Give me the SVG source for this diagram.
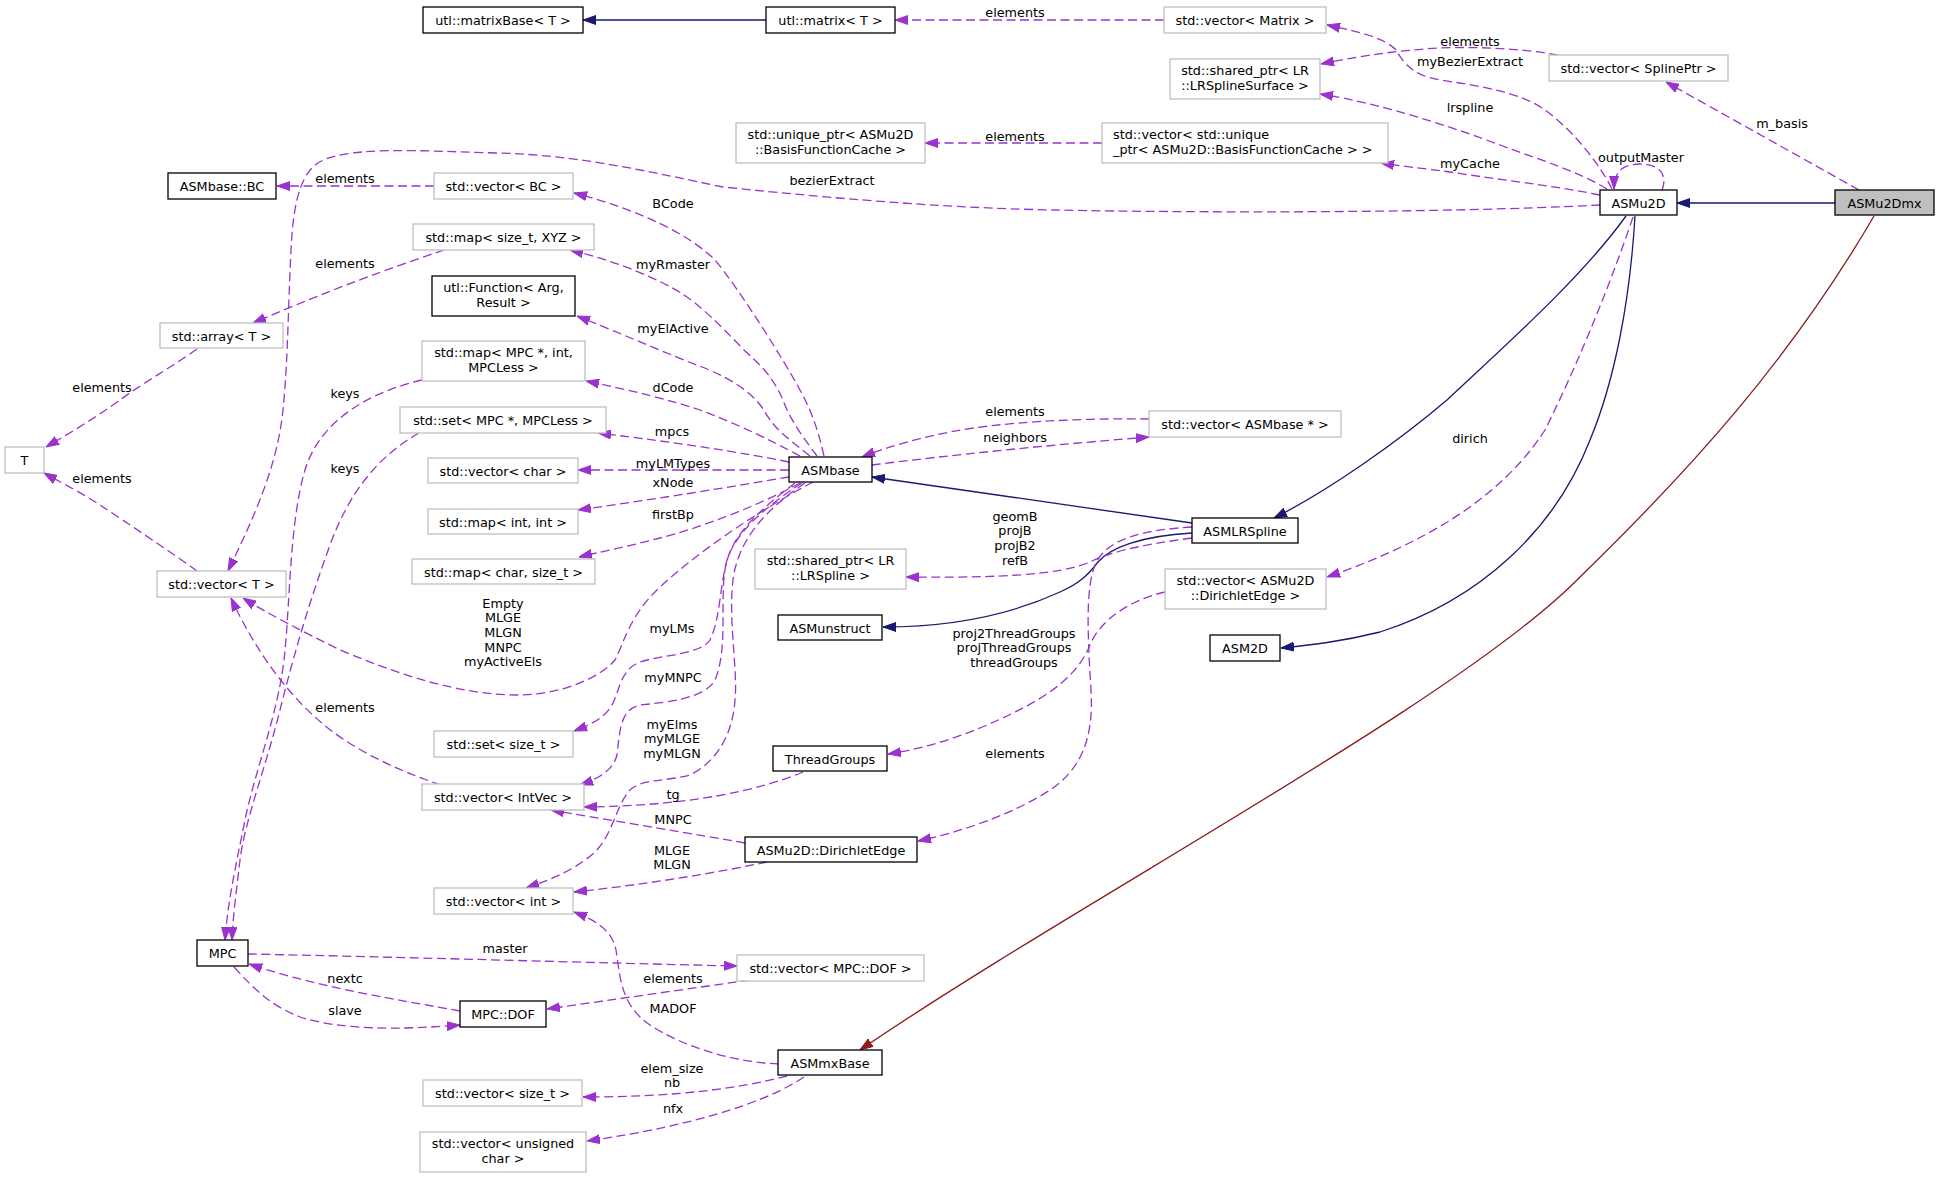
<svg xmlns="http://www.w3.org/2000/svg" width="1939" height="1178" viewBox="0 0 1939 1178">
<style>
text{font-family:"DejaVu Sans","Liberation Sans",sans-serif;font-size:12.8px;fill:#000}
.t{text-anchor:middle}
.d{fill:#fff;stroke:#000;stroke-width:1.3}
.u{fill:#fff;stroke:#bfbfbf;stroke-width:1.3}
.cur{fill:#bfbfbf;stroke:#000;stroke-width:1.3}
.e{fill:none;stroke:#9a32cd;stroke-width:1.3;stroke-dasharray:9,4.5}
.b{fill:none;stroke:#191970;stroke-width:1.3}
.r{fill:none;stroke:#8b1a1a;stroke-width:1.3}
.e{marker-end:url(#ap)}
.b{marker-end:url(#ab)}
.r{marker-end:url(#ar)}
</style>
<defs>
<marker id="ap" viewBox="0 0 13 10" refX="13" refY="5" markerWidth="13" markerHeight="10" markerUnits="userSpaceOnUse" orient="auto"><path d="M0,0.5 L13,5 L0,9.5 z" fill="#9a32cd" stroke="#9a32cd" stroke-width="1" stroke-dasharray="none"/></marker>
<marker id="ab" viewBox="0 0 13 10" refX="13" refY="5" markerWidth="13" markerHeight="10" markerUnits="userSpaceOnUse" orient="auto"><path d="M0,0.5 L13,5 L0,9.5 z" fill="#191970" stroke="#191970" stroke-width="1" stroke-dasharray="none"/></marker>
<marker id="ar" viewBox="0 0 13 10" refX="13" refY="5" markerWidth="13" markerHeight="10" markerUnits="userSpaceOnUse" orient="auto"><path d="M0,0.5 L13,5 L0,9.5 z" fill="#8b1a1a" stroke="#8b1a1a" stroke-width="1" stroke-dasharray="none"/></marker>
</defs>
<rect width="1939" height="1178" fill="#fff"/>
<g id="connectors">
<path class="b" d="M766,20 L583,20"/>
<path class="e" d="M1164,20 L895,20"/>
<path class="e" d="M1102,143 L925,143"/>
<path class="e" d="M1612,189 C1600,165 1575,132 1545,110 C1520,92 1480,86 1440,80 C1410,75 1402,60 1396,50 C1385,38 1360,32 1327,25"/>
<path class="e" d="M1662,190 C1668,175 1660,164 1640,164 C1622,164 1614,172 1614,189"/>
<path class="e" d="M1607,189 C1575,170 1540,160 1500,145 C1455,128 1380,103 1320,94"/>
<path class="e" d="M1558,55 C1520,48 1460,45 1413,50 C1380,53 1350,58 1321,64"/>
<path class="e" d="M1600,195 C1550,185 1500,180 1450,172 C1420,168 1400,166 1381,163"/>
<path class="e" d="M1600,205 C1450,213 1200,213 1055,210 C950,208 850,200 723,187 C650,172 580,155 497,153 C420,151 340,145 315,165 C298,180 293,210 291,250 C288,310 288,360 283,410 C277,470 250,525 228,571"/>
<path class="e" d="M1859,190 L1666,82"/>
<path class="b" d="M1835,203 L1677,203"/>
<path class="r" d="M1874,216 C1790,360 1690,470 1580,577 C1460,700 1080,900 860,1050"/>
<path class="b" d="M1626,216 C1580,280 1500,350 1447,400 C1400,440 1330,490 1274,518"/>
<path class="b" d="M1635,216 C1630,300 1615,380 1590,440 C1555,530 1480,600 1380,632 C1340,642 1310,645 1281,648"/>
<path class="e" d="M1633,217 C1605,300 1570,380 1545,430 C1500,500 1420,545 1327,577"/>
<path class="b" d="M1192,523 L872,477"/>
<path class="b" d="M1192,533 C1140,536 1110,548 1098,562 C1088,575 1080,583 1060,592 C1010,615 950,627 883,627"/>
<path class="e" d="M1192,538 C1140,545 1110,552 1090,562 C1060,575 1000,578 906,577"/>
<path class="e" d="M1192,527 C1140,530 1105,540 1095,565 C1085,590 1088,640 1091,690 C1094,740 1080,770 1050,790 C1020,810 970,830 918,841"/>
<path class="e" d="M1165,592 C1130,600 1100,620 1090,645 C1078,675 1050,695 1013,713 C975,732 930,748 888,754"/>
<path class="e" d="M1149,419 C1080,418 1000,422 950,432 C910,440 885,448 862,457"/>
<path class="e" d="M872,465 C950,455 1050,445 1149,437"/>
<path class="e" d="M434,186 L277,186"/>
<path class="e" d="M824,456 C818,430 812,412 800,390 C785,362 740,290 715,260 C690,235 640,210 574,193"/>
<path class="e" d="M817,456 C805,440 790,420 783,400 C772,375 760,365 744,350 C720,325 700,305 681,293 C660,280 620,262 570,250"/>
<path class="e" d="M810,456 C790,440 775,430 765,412 C755,395 735,380 702,367 C670,355 620,333 577,316"/>
<path class="e" d="M800,456 C770,440 740,425 700,410 C670,400 630,390 586,381"/>
<path class="e" d="M789,462 C740,452 680,443 598,433"/>
<path class="e" d="M789,470 L578,470"/>
<path class="e" d="M789,477 C730,487 650,500 578,510"/>
<path class="e" d="M800,483 C760,505 700,528 660,538 C630,546 600,552 579,557"/>
<path class="e" d="M813,482 C760,510 700,550 660,587 C630,615 625,640 615,660 C600,678 560,695 518,695 C460,695 400,675 340,650 C300,630 270,615 243,598"/>
<path class="e" d="M802,483 C760,510 735,535 727,560 C720,585 720,620 710,640 C700,655 660,655 640,662 C620,670 620,690 612,705 C605,718 590,725 574,731"/>
<path class="e" d="M795,483 C760,510 730,535 725,570 C720,600 728,650 715,680 C705,698 670,702 640,705 C620,710 620,730 617,755 C613,770 600,778 580,785"/>
<path class="e" d="M805,483 C765,510 738,540 733,580 C728,620 738,670 735,700 C733,730 720,760 690,775 C665,782 640,778 628,792 C615,810 612,835 595,852 C575,870 550,880 526,888"/>
<path class="e" d="M803,772 C760,790 690,806 584,807"/>
<path class="e" d="M745,843 C700,835 620,822 551,810"/>
<path class="e" d="M767,862 C720,872 650,884 574,892"/>
<path class="e" d="M779,1064 C730,1062 680,1045 650,1025 C620,1005 620,975 616,950 C612,930 595,920 574,912"/>
<path class="e" d="M750,980 C680,990 610,1000 547,1009"/>
<path class="e" d="M248,954 C400,957 600,963 737,966"/>
<path class="e" d="M460,1011 C400,1000 320,988 249,964"/>
<path class="e" d="M234,967 C255,990 270,1005 300,1017 C340,1030 400,1030 460,1025"/>
<path class="e" d="M787,1076 C740,1088 680,1097 583,1097"/>
<path class="e" d="M804,1077 C770,1100 700,1125 587,1141"/>
<path class="e" d="M444,250 C390,268 330,290 253,323"/>
<path class="e" d="M197,349 C170,368 140,385 120,400 C95,418 70,433 46,447"/>
<path class="e" d="M197,571 C165,548 130,525 100,505 C80,492 60,482 44,473"/>
<path class="e" d="M441,785 C390,768 345,745 315,717 C285,690 255,650 231,598"/>
<path class="e" d="M422,380 C370,392 320,420 305,470 C290,520 290,600 285,650 C280,710 255,770 245,820 C235,870 228,900 225,940"/>
<path class="e" d="M419,433 C380,455 350,490 330,545 C310,600 295,650 280,710 C265,770 245,820 240,860 C236,895 233,915 232,940"/>
</g>
<g id="edge-labels">
<text class="t" x="1015" y="16.5">elements</text>
<text class="t" x="1470" y="45.5">elements</text>
<text class="t" x="1470" y="65.5">myBezierExtract</text>
<text class="t" x="1470" y="111.5">lrspline</text>
<text class="t" x="1782" y="127.5">m_basis</text>
<text class="t" x="1015" y="140.5">elements</text>
<text class="t" x="1641" y="161.5">outputMaster</text>
<text class="t" x="1470" y="167.5">myCache</text>
<text class="t" x="345" y="182.5">elements</text>
<text class="t" x="832" y="184.5">bezierExtract</text>
<text class="t" x="673" y="207.5">BCode</text>
<text class="t" x="345" y="267.5">elements</text>
<text class="t" x="673" y="268.5">myRmaster</text>
<text class="t" x="673" y="332.5">myElActive</text>
<text class="t" x="102" y="391.5">elements</text>
<text class="t" x="673" y="391.5">dCode</text>
<text class="t" x="345" y="397.5">keys</text>
<text class="t" x="1015" y="415.5">elements</text>
<text class="t" x="672" y="435.5">mpcs</text>
<text class="t" x="1015" y="441.5">neighbors</text>
<text class="t" x="1470" y="442.5">dirich</text>
<text class="t" x="673" y="467.5">myLMTypes</text>
<text class="t" x="345" y="472.5">keys</text>
<text class="t" x="102" y="482.5">elements</text>
<text class="t" x="673" y="486.5">xNode</text>
<text class="t" x="673" y="518.5">firstBp</text>
<text class="t" x="1015" y="520.5">geomB</text>
<text class="t" x="1015" y="535.2">projB</text>
<text class="t" x="1015" y="549.9">projB2</text>
<text class="t" x="1015" y="564.6">refB</text>
<text class="t" x="503" y="607.5">Empty</text>
<text class="t" x="503" y="622.2">MLGE</text>
<text class="t" x="503" y="636.9">MLGN</text>
<text class="t" x="503" y="651.6">MNPC</text>
<text class="t" x="503" y="666.3">myActiveEls</text>
<text class="t" x="672" y="632.5">myLMs</text>
<text class="t" x="1014" y="637.5">proj2ThreadGroups</text>
<text class="t" x="1014" y="652.2">projThreadGroups</text>
<text class="t" x="1014" y="666.9">threadGroups</text>
<text class="t" x="673" y="681.5">myMNPC</text>
<text class="t" x="345" y="711.5">elements</text>
<text class="t" x="672" y="728.5">myElms</text>
<text class="t" x="672" y="743.2">myMLGE</text>
<text class="t" x="672" y="757.9">myMLGN</text>
<text class="t" x="1015" y="757.5">elements</text>
<text class="t" x="673" y="799">tg</text>
<text class="t" x="673" y="823.5">MNPC</text>
<text class="t" x="672" y="854.5">MLGE</text>
<text class="t" x="672" y="869.2">MLGN</text>
<text class="t" x="505" y="952.5">master</text>
<text class="t" x="345" y="982.5">nextc</text>
<text class="t" x="673" y="982.5">elements</text>
<text class="t" x="673" y="1012.5">MADOF</text>
<text class="t" x="345" y="1014.5">slave</text>
<text class="t" x="672" y="1072.5">elem_size</text>
<text class="t" x="672" y="1087.2">nb</text>
<text class="t" x="673" y="1112.5">nfx</text>
</g>
<g id="node-matrixBase"><rect class="d" x="423" y="7" width="160" height="26"/><text class="t" x="503" y="24.5">utl::matrixBase&lt; T &gt;</text></g>
<g id="node-matrix"><rect class="d" x="766" y="7" width="129" height="26"/><text class="t" x="830.5" y="24.5">utl::matrix&lt; T &gt;</text></g>
<g id="node-vecMatrix"><rect class="u" x="1164" y="7" width="162" height="26"/><text class="t" x="1245" y="24.5">std::vector&lt; Matrix &gt;</text></g>
<g id="node-sharedLRSS"><rect class="u" x="1170" y="59" width="150" height="40"/><text class="t" x="1245" y="75">std::shared_ptr&lt; LR</text><text class="t" x="1245" y="90">::LRSplineSurface &gt;</text></g>
<g id="node-vecSplinePtr"><rect class="u" x="1549" y="55" width="179" height="26"/><text class="t" x="1638.5" y="72.5">std::vector&lt; SplinePtr &gt;</text></g>
<g id="node-uniquePtr"><rect class="u" x="736" y="123" width="189" height="40"/><text class="t" x="830.5" y="139">std::unique_ptr&lt; ASMu2D</text><text class="t" x="830.5" y="154">::BasisFunctionCache &gt;</text></g>
<g id="node-vecUnique"><rect class="u" x="1102" y="123" width="286" height="40"/><text x="1113" y="139">std::vector&lt; std::unique</text><text x="1113" y="154">_ptr&lt; ASMu2D::BasisFunctionCache &gt; &gt;</text></g>
<g id="node-ASMu2D"><rect class="d" x="1600" y="190" width="77" height="25"/><text class="t" x="1638.5" y="207.5">ASMu2D</text></g>
<g id="node-ASMu2Dmx"><rect class="cur" x="1835" y="190" width="99" height="25"/><text class="t" x="1884.5" y="207.5">ASMu2Dmx</text></g>
<g id="node-BC"><rect class="d" x="168" y="173" width="108" height="26"/><text class="t" x="222" y="190.5">ASMbase::BC</text></g>
<g id="node-vecBC"><rect class="u" x="434" y="173" width="139" height="26"/><text class="t" x="503.5" y="190.5">std::vector&lt; BC &gt;</text></g>
<g id="node-mapXYZ"><rect class="u" x="413" y="224" width="181" height="26"/><text class="t" x="503.5" y="241.5">std::map&lt; size_t, XYZ &gt;</text></g>
<g id="node-utlFunction"><rect class="d" x="432" y="276" width="143" height="40"/><text class="t" x="503.5" y="292">utl::Function&lt; Arg,</text><text class="t" x="503.5" y="307">Result &gt;</text></g>
<g id="node-arrayT"><rect class="u" x="160" y="323" width="123" height="25"/><text class="t" x="221.5" y="340.5">std::array&lt; T &gt;</text></g>
<g id="node-mapMPC"><rect class="u" x="422" y="341" width="163" height="40"/><text class="t" x="503.5" y="357">std::map&lt; MPC *, int,</text><text class="t" x="503.5" y="372">MPCLess &gt;</text></g>
<g id="node-T"><rect class="u" x="5" y="447" width="39" height="26"/><text class="t" x="24.5" y="464.5">T</text></g>
<g id="node-setMPC"><rect class="u" x="400" y="407" width="206" height="26"/><text class="t" x="503" y="424.5">std::set&lt; MPC *, MPCLess &gt;</text></g>
<g id="node-vecChar"><rect class="u" x="428" y="458" width="150" height="25"/><text class="t" x="503" y="475.5">std::vector&lt; char &gt;</text></g>
<g id="node-mapIntInt"><rect class="u" x="428" y="509" width="150" height="25"/><text class="t" x="503" y="526.5">std::map&lt; int, int &gt;</text></g>
<g id="node-mapCharSize"><rect class="u" x="412" y="559" width="183" height="25"/><text class="t" x="503.5" y="576.5">std::map&lt; char, size_t &gt;</text></g>
<g id="node-vecT"><rect class="u" x="157" y="571" width="129" height="26"/><text class="t" x="221.5" y="588.5">std::vector&lt; T &gt;</text></g>
<g id="node-setSize"><rect class="u" x="434" y="731" width="139" height="26"/><text class="t" x="503.5" y="748.5">std::set&lt; size_t &gt;</text></g>
<g id="node-vecASMbase"><rect class="u" x="1149" y="411" width="192" height="26"/><text class="t" x="1245" y="428.5">std::vector&lt; ASMbase * &gt;</text></g>
<g id="node-ASMbase"><rect class="d" x="789" y="457" width="83" height="25"/><text class="t" x="830.5" y="474.5">ASMbase</text></g>
<g id="node-ASMLRSpline"><rect class="d" x="1192" y="518" width="106" height="25"/><text class="t" x="1245" y="535.5">ASMLRSpline</text></g>
<g id="node-sharedLRS"><rect class="u" x="755" y="549" width="151" height="40"/><text class="t" x="830.5" y="565">std::shared_ptr&lt; LR</text><text class="t" x="830.5" y="580">::LRSpline &gt;</text></g>
<g id="node-ASMunstruct"><rect class="d" x="778" y="615" width="104" height="25"/><text class="t" x="830" y="632.5">ASMunstruct</text></g>
<g id="node-vecDirichlet"><rect class="u" x="1165" y="569" width="161" height="40"/><text class="t" x="1245.5" y="585">std::vector&lt; ASMu2D</text><text class="t" x="1245.5" y="600">::DirichletEdge &gt;</text></g>
<g id="node-ASM2D"><rect class="d" x="1210" y="635" width="70" height="26"/><text class="t" x="1245" y="652.5">ASM2D</text></g>
<g id="node-ThreadGroups"><rect class="d" x="773" y="746" width="114" height="25"/><text class="t" x="830" y="763.5">ThreadGroups</text></g>
<g id="node-vecIntVec"><rect class="u" x="422" y="784" width="162" height="26"/><text class="t" x="503" y="801.5">std::vector&lt; IntVec &gt;</text></g>
<g id="node-vecInt"><rect class="u" x="434" y="888" width="139" height="26"/><text class="t" x="503.5" y="905.5">std::vector&lt; int &gt;</text></g>
<g id="node-DirichletEdge"><rect class="d" x="745" y="837" width="172" height="25"/><text class="t" x="831" y="854.5">ASMu2D::DirichletEdge</text></g>
<g id="node-MPC"><rect class="d" x="197" y="940" width="51" height="26"/><text class="t" x="222.5" y="957.5">MPC</text></g>
<g id="node-vecMPCDOF"><rect class="u" x="737" y="955" width="187" height="26"/><text class="t" x="830.5" y="972.5">std::vector&lt; MPC::DOF &gt;</text></g>
<g id="node-MPCDOF"><rect class="d" x="460" y="1001" width="86" height="26"/><text class="t" x="503" y="1018.5">MPC::DOF</text></g>
<g id="node-ASMmxBase"><rect class="d" x="778" y="1050" width="104" height="25"/><text class="t" x="830" y="1067.5">ASMmxBase</text></g>
<g id="node-vecSize"><rect class="u" x="423" y="1080" width="159" height="26"/><text class="t" x="502.5" y="1097.5">std::vector&lt; size_t &gt;</text></g>
<g id="node-vecUChar"><rect class="u" x="420" y="1132" width="166" height="40"/><text class="t" x="503" y="1148">std::vector&lt; unsigned</text><text class="t" x="503" y="1163">char &gt;</text></g>
</svg>
